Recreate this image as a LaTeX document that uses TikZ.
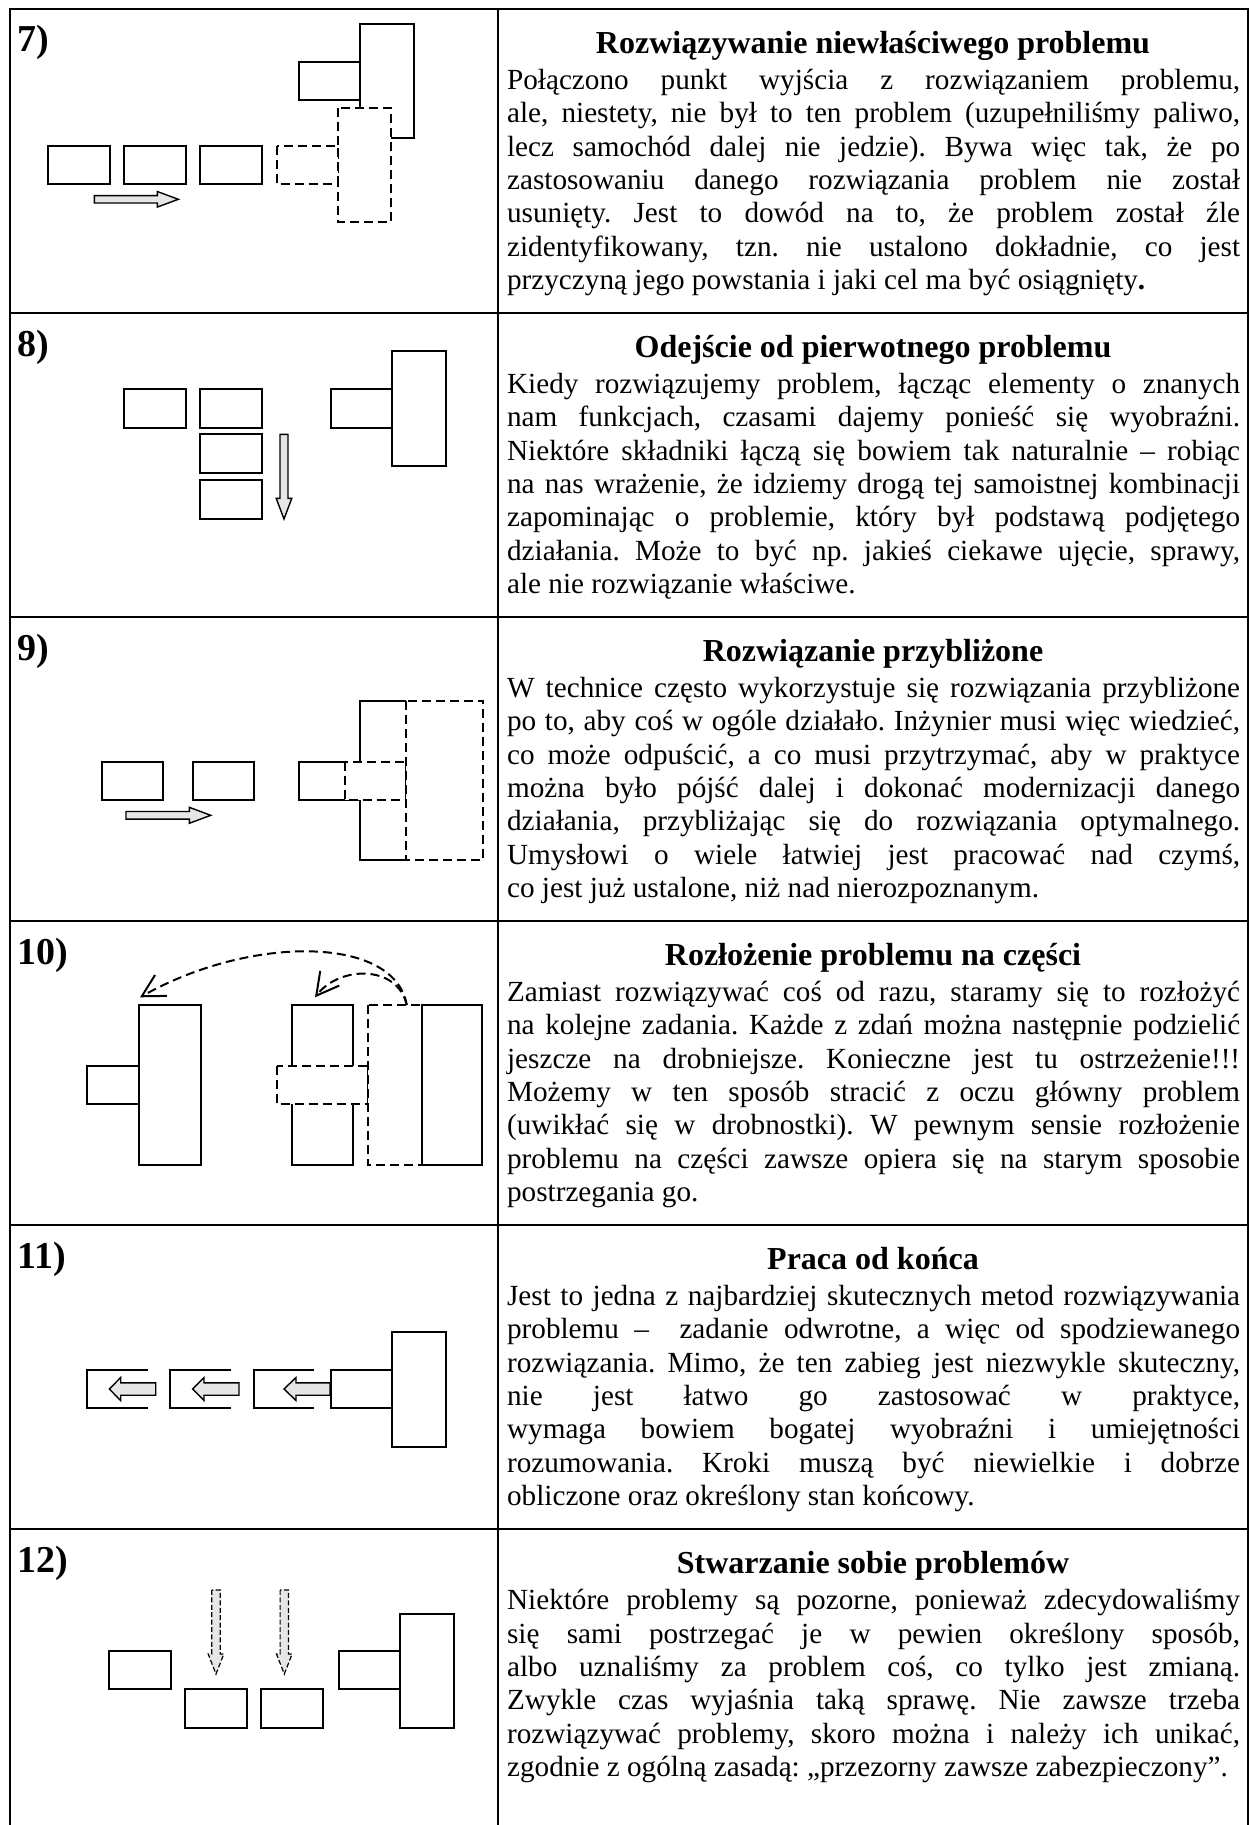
\documentclass[tikz,border=0pt]{standalone}
\usepackage{fontspec}
\setmainfont{Liberation Serif}
\usetikzlibrary{arrows.meta}
\definecolor{arrowfill}{RGB}{230,230,230}
\frenchspacing
\newcommand{\jline}[4]{\node[bodytxt] (#1) at (506.7,{#2+80.3+33.4*(#3-1)}) {\makebox[366.5pt][s]{#4}};}
\newcommand{\lastline}[4]{\node[bodytxt] (#1) at (506.7,{#2+80.3+33.4*(#3-1)}) {#4};}
\newcommand{\rowtitle}[3]{\node[titletxt] (#1) at (873,{#2+44.3}) {#3};}
\newcommand{\rowlabel}[3]{\node[labeltxt] (#1) at (17,{#2+43}) {#3};}
\begin{document}
\begin{tikzpicture}[x=0.5pt,y=-0.5pt,
  grid/.style={line width=1pt},
  shp/.style={line width=1pt, draw=black},
  wshp/.style={line width=1pt, draw=black, fill=white},
  dsh/.style={line width=1pt, draw=black, dash pattern=on 4.5pt off 2.5pt, fill=white},
  blk/.style={line width=0.7pt, draw=black, fill=arrowfill},
  dblk/.style={line width=0.6pt, draw=black, fill=arrowfill, dash pattern=on 2.5pt off 1.2pt},
  barb/.style={line width=1pt, dash pattern=on 4.5pt off 2.5pt, -{Straight Barb[length=11pt,width=12pt,line width=1pt]}},
  bodytxt/.style={anchor=base west, inner sep=0pt, font=\fontsize{14.6pt}{16.7pt}\selectfont\frenchspacing},
  titletxt/.style={anchor=base, inner sep=0pt, font=\fontsize{16pt}{18pt}\selectfont\bfseries},
  labeltxt/.style={anchor=base west, inner sep=0pt, font=\fontsize{19pt}{22pt}\selectfont\bfseries}]
\useasboundingbox (0,0) rectangle (1251,1825);
\fill[white] (0,0) rectangle (1251,1825);
% table
\draw[grid] (10,1825) -- (10,9) -- (1248,9) -- (1248,1825);
\draw[grid] (497.5,9) -- (497.5,1825);
\foreach \yy in {313,617,921,1225,1529.3} \draw[grid] (10,\yy) -- (1248,\yy);

% ---------- row 7 ----------
\rowlabel{l7}{9}{7)}
\draw[shp] (48.3,146) rectangle (110,184);
\draw[shp] (124.3,146) rectangle (186,184);
\draw[shp] (200,146) rectangle (262,184);
\draw[shp] (299.3,62.3) rectangle (360,100);
\draw[shp] (360,24.3) rectangle (414,138.3);
\draw[dsh] (337.7,107.7) rectangle (391,221.7);
\draw[dsh] (276.7,146) rectangle (337.7,184);
\draw[blk] (94.3,195.6) -- (157.3,195.6) -- (157.3,191.5) -- (178.3,199.3) -- (157.3,207.1) -- (157.3,203) -- (94.3,203) -- cycle;

% ---------- row 8 ----------
\rowlabel{l8}{313}{8)}
\draw[shp] (124.3,389) rectangle (186,427.7);
\draw[shp] (200,389) rectangle (262,427.7);
\draw[shp] (200,434.3) rectangle (262,473);
\draw[shp] (200,480.3) rectangle (262,519);
\draw[shp] (331.3,389) rectangle (392,427.7);
\draw[shp] (392,351) rectangle (446,465.7);
\draw[blk] (280,434.3) -- (280,498.3) -- (276.2,498.3) -- (284,519) -- (291.8,498.3) -- (288,498.3) -- (288,434.3) -- cycle;

% ---------- row 9 ----------
\rowlabel{l9}{617}{9)}
\draw[shp] (101.7,761.7) rectangle (163.3,800);
\draw[shp] (192.7,761.7) rectangle (254.3,800);
\draw[blk] (126,811.5) -- (189.3,811.5) -- (189.3,807.3) -- (210.7,815.3) -- (189.3,823.3) -- (189.3,819.1) -- (126,819.1) -- cycle;
\draw[shp] (345,761.7) -- (299.3,761.7) -- (299.3,800) -- (345,800);
\draw[shp] (360,761.7) -- (360,701) -- (406,701);
\draw[shp] (345,800) -- (360,800) -- (360,860) -- (406,860);
\draw[dsh] (345,761.7) rectangle (406,800);
\draw[dsh] (406,701) rectangle (483.3,860);

% ---------- row 10 ----------
\rowlabel{l10}{921}{10)}
\draw[shp] (86.7,1066) rectangle (139.3,1104);
\draw[shp] (139.3,1005) rectangle (201,1165);
\draw[shp] (292,1005) rectangle (353.3,1165);
\draw[dsh] (276.7,1066) rectangle (367.7,1104);
\draw[dsh] (367.7,1005) rectangle (430,1165);
\draw[wshp] (421.7,1005) rectangle (482.3,1165);
\coordinate (s10) at (406.7,1005);
\coordinate (e10a) at (140,997.3);
\coordinate (e10b) at (315,997.3);
\draw[barb] (s10) .. controls (395,935) and (250,935) .. (e10a);
\draw[barb] (s10) .. controls (398,965) and (340,965) .. (e10b);

% ---------- row 11 ----------
\rowlabel{l11}{1225}{11)}
\draw[shp] (147.7,1370) -- (86.7,1370) -- (86.7,1408.3) -- (147.7,1408.3);
\draw[shp] (231,1370) -- (170,1370) -- (170,1408.3) -- (231,1408.3);
\draw[shp] (314.3,1370) -- (253.7,1370) -- (253.7,1408.3) -- (314.3,1408.3);
\draw[blk] (155.7,1382.8) -- (120.7,1382.8) -- (120.7,1377.5) -- (109.3,1389) -- (120.7,1400.5) -- (120.7,1395.2) -- (155.7,1395.2) -- cycle;
\draw[blk] (239,1382.8) -- (204,1382.8) -- (204,1377.5) -- (192.7,1389) -- (204,1400.5) -- (204,1395.2) -- (239,1395.2) -- cycle;
\draw[blk] (330,1382.8) -- (296,1382.8) -- (296,1377.5) -- (284,1389) -- (296,1400.5) -- (296,1395.2) -- (330,1395.2) -- cycle;
\draw[shp] (331,1370) rectangle (392,1408.3);
\draw[shp] (392,1332) rectangle (446,1446.7);

% ---------- row 12 ----------
\rowlabel{l12}{1529.3}{12)}
\draw[shp] (109,1651) rectangle (170.7,1689.3);
\draw[shp] (185.3,1689.3) rectangle (247,1727.7);
\draw[shp] (261.3,1689.3) rectangle (323,1727.7);
\draw[shp] (339,1651) rectangle (400,1689.3);
\draw[shp] (400,1613.7) rectangle (453.7,1727.7);
\draw[dblk] (211.8,1590) -- (211.8,1654) -- (208.2,1654) -- (216,1674) -- (223.8,1654) -- (220.2,1654) -- (220.2,1590) -- cycle;
\draw[dblk] (280.1,1590) -- (280.1,1654) -- (276.5,1654) -- (284.3,1674) -- (292.1,1654) -- (288.5,1654) -- (288.5,1590) -- cycle;

% ---------- texts ----------
\rowtitle{t7}{9}{Rozwiązywanie niewłaściwego problemu}
\jline{b7a}{9}{1}{Połączono punkt wyjścia z rozwiązaniem problemu,}
\jline{b7b}{9}{2}{ale, niestety, nie był to ten problem (uzupełniliśmy paliwo,}
\jline{b7c}{9}{3}{lecz samochód dalej nie jedzie). Bywa więc tak, że po}
\jline{b7d}{9}{4}{zastosowaniu danego rozwiązania problem nie został}
\jline{b7e}{9}{5}{usunięty. Jest to dowód na to, że problem został źle}
\jline{b7f}{9}{6}{zidentyfikowany, tzn. nie ustalono dokładnie, co jest}
\lastline{b7g}{9}{7}{przyczyną jego powstania i jaki cel ma być osiągnięty\textbf{.}}

\rowtitle{t8}{313}{Odejście od pierwotnego problemu}
\jline{b8a}{313}{1}{Kiedy rozwiązujemy problem, łącząc elementy o znanych}
\jline{b8b}{313}{2}{nam funkcjach, czasami dajemy ponieść się wyobraźni.}
\jline{b8c}{313}{3}{Niektóre składniki łączą się bowiem tak naturalnie – robiąc}
\jline{b8d}{313}{4}{na nas wrażenie, że idziemy drogą tej samoistnej kombinacji}
\jline{b8e}{313}{5}{zapominając o problemie, który był podstawą podjętego}
\jline{b8f}{313}{6}{działania. Może to być np. jakieś ciekawe ujęcie, sprawy,}
\lastline{b8g}{313}{7}{ale nie rozwiązanie właściwe.}

\rowtitle{t9}{617}{Rozwiązanie przybliżone}
\jline{b9a}{617}{1}{W technice często wykorzystuje się rozwiązania przybliżone}
\jline{b9b}{617}{2}{po to, aby coś w ogóle działało. Inżynier musi więc wiedzieć,}
\jline{b9c}{617}{3}{co może odpuścić, a co musi przytrzymać, aby w praktyce}
\jline{b9d}{617}{4}{można było pójść dalej i dokonać modernizacji danego}
\jline{b9e}{617}{5}{działania, przybliżając się do rozwiązania optymalnego.}
\jline{b9f}{617}{6}{Umysłowi o wiele łatwiej jest pracować nad czymś,}
\lastline{b9g}{617}{7}{co jest już ustalone, niż nad nierozpoznanym.}

\rowtitle{t10}{921}{Rozłożenie problemu na części}
\jline{b10a}{921}{1}{Zamiast rozwiązywać coś od razu, staramy się to rozłożyć}
\jline{b10b}{921}{2}{na kolejne zadania. Każde z zdań można następnie podzielić}
\jline{b10c}{921}{3}{jeszcze na drobniejsze. Konieczne jest tu ostrzeżenie!!!}
\jline{b10d}{921}{4}{Możemy w ten sposób stracić z oczu główny problem}
\jline{b10e}{921}{5}{(uwikłać się w drobnostki). W pewnym sensie rozłożenie}
\jline{b10f}{921}{6}{problemu na części zawsze opiera się na starym sposobie}
\lastline{b10g}{921}{7}{postrzegania go.}

\rowtitle{t11}{1225}{Praca od końca}
\jline{b11a}{1225}{1}{Jest to jedna z najbardziej skutecznych metod rozwiązywania}
\jline{b11b}{1225}{2}{problemu –\ \ zadanie odwrotne, a więc od spodziewanego}
\jline{b11c}{1225}{3}{rozwiązania. Mimo, że ten zabieg jest niezwykle skuteczny,}
\jline{b11d}{1225}{4}{nie jest łatwo go zastosować w praktyce,}
\jline{b11e}{1225}{5}{wymaga bowiem bogatej wyobraźni i umiejętności}
\jline{b11f}{1225}{6}{rozumowania. Kroki muszą być niewielkie i dobrze}
\lastline{b11g}{1225}{7}{obliczone oraz określony stan końcowy.}

\rowtitle{t12}{1529.3}{Stwarzanie sobie problemów}
\jline{b12a}{1529.3}{1}{Niektóre problemy są pozorne, ponieważ zdecydowaliśmy}
\jline{b12b}{1529.3}{2}{się sami postrzegać je w pewien określony sposób,}
\jline{b12c}{1529.3}{3}{albo uznaliśmy za problem coś, co tylko jest zmianą.}
\jline{b12d}{1529.3}{4}{Zwykle czas wyjaśnia taką sprawę. Nie zawsze trzeba}
\jline{b12e}{1529.3}{5}{rozwiązywać problemy, skoro można i należy ich unikać,}
\lastline{b12f}{1529.3}{6}{zgodnie z ogólną zasadą: „przezorny zawsze zabezpieczony”.}
\end{tikzpicture}
\end{document}
